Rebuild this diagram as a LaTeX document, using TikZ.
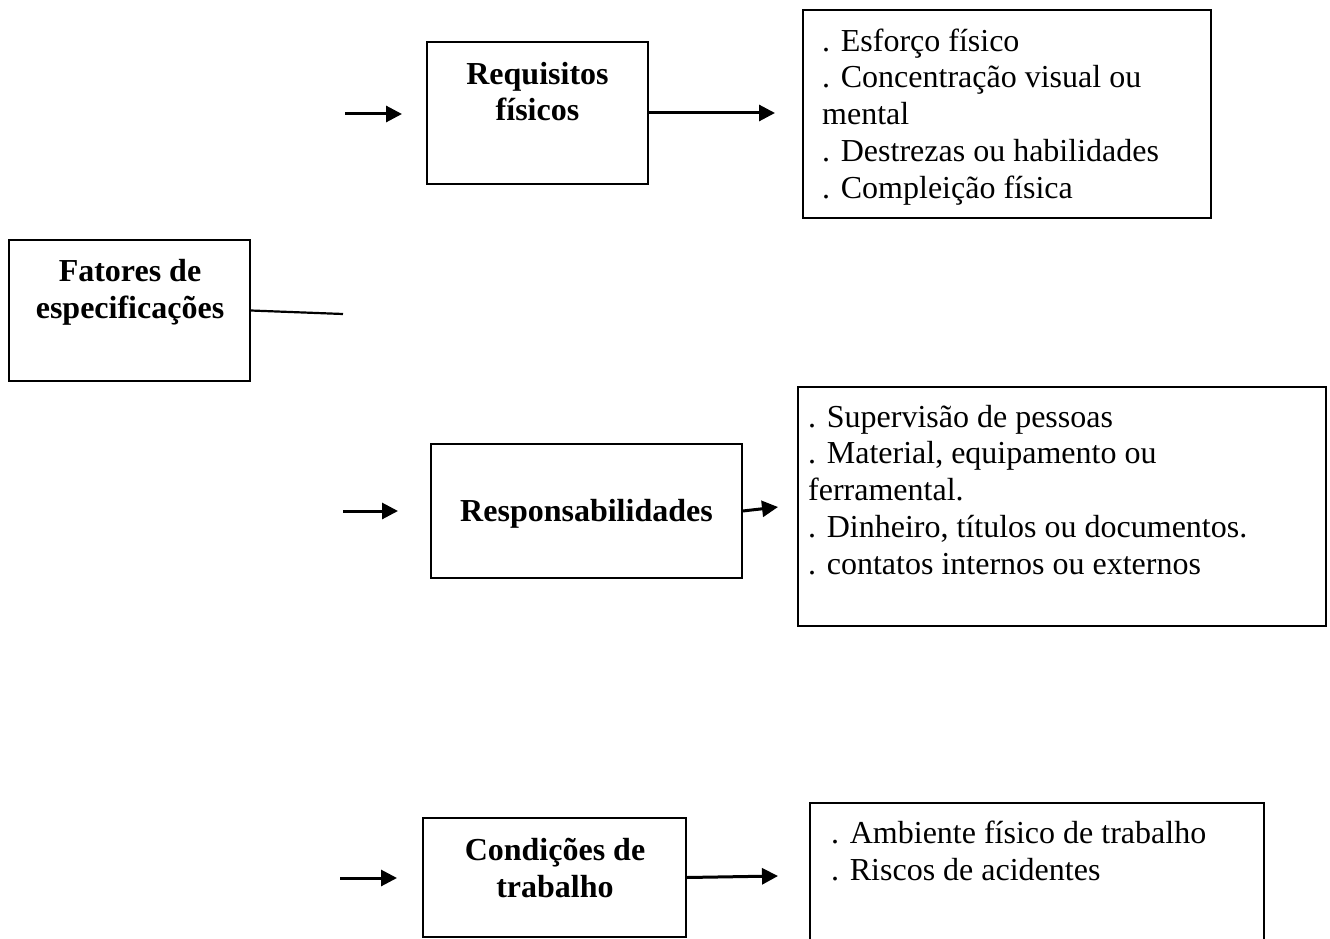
\documentclass[tikz,border=0pt]{standalone}
\usepackage{fontspec}
\setmainfont{Liberation Serif}
\usetikzlibrary{arrows.meta}
\begin{document}
\begin{tikzpicture}[x=1pt,y=-1pt,
  box/.style={draw, line width=1.5pt, inner sep=0pt, rectangle},
  conn/.style={line width=3pt, -{Triangle[length=16pt,width=16pt]}},
  plain/.style={line width=2.2pt},
  title/.style={font=\fontsize{32}{36.7}\selectfont\bfseries, align=center, inner sep=0pt, anchor=base},
  list/.style={font=\fontsize{32}{36.7}\selectfont, align=left, inner sep=0pt, anchor=base west}]
\clip (0,0) rectangle (1330,939);
% boxes
\node[box, minimum width=221pt, minimum height=142pt] (req) at (537.5,113) {};
\node[box, minimum width=408pt, minimum height=208pt] (lst1) at (1007,114) {};
\node[box, minimum width=241pt, minimum height=141pt] (fat) at (129.5,310.5) {};
\node[box, minimum width=311pt, minimum height=134pt] (resp) at (586.5,511) {};
\node[box, minimum width=528pt, minimum height=239pt] (lst2) at (1062,506.5) {};
\node[box, minimum width=263pt, minimum height=119pt] (cond) at (554.5,877.5) {};
\node[box, minimum width=454pt, minimum height=177pt] (lst3) at (1037,891.5) {};
% texts (anchor = baseline of the last line)
\node[title] (treq) at (537.5,121) {Requisitos\\físicos};
\node[title] (tfat) at (130,318) {Fatores de\\especificações};
\node[title] (tresp) at (586.5,521) {Responsabilidades};
\node[title] (tcond) at (555,897) {Condições de\\trabalho};
\node[list] (l1) at (822,198) {. Esforço físico\\. Concentração visual ou\\mental\\. Destrezas ou habilidades\\. Compleição física};
\node[list] (l2) at (808,574) {. Supervisão de pessoas\\. Material, equipamento ou\\ferramental.\\. Dinheiro, títulos ou documentos.\\. contatos internos ou externos};
\node[list] (l3) at (831,880) {. Ambiente físico de trabalho\\. Riscos de acidentes};
% connectors
\coordinate (s1) at (345,114);
\coordinate (e1) at (402,114);
\coordinate (e2) at (775,113);
\coordinate (f1) at (343,314);
\coordinate (s3) at (343,511);
\coordinate (e3) at (398,511);
\coordinate (e4) at (778,507);
\coordinate (s5) at (340,878);
\coordinate (e5) at (397,878);
\coordinate (e6) at (778,876);
\draw[conn] (s1) -- (e1);
\draw[conn] (req.east) -- (e2);
\draw[plain] (fat.east) -- (f1);
\draw[conn] (s3) -- (e3);
\draw[conn] (resp.east) -- (e4);
\draw[conn] (s5) -- (e5);
\draw[conn] (cond.east) -- (e6);
\end{tikzpicture}
\end{document}
